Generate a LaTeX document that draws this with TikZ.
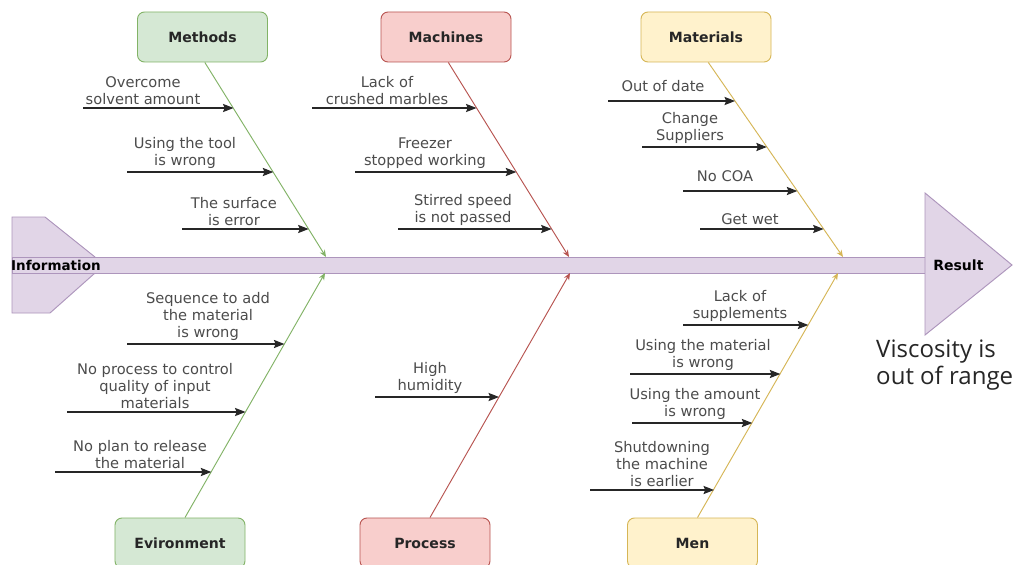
\documentclass[tikz,border=0pt]{standalone}
\usepackage{fontspec}
\setmainfont{DejaVu Sans}
\newfontfamily\notefont{Open Sans}
\usetikzlibrary{arrows.meta}

\definecolor{spinefill}{HTML}{E1D5E7}
\definecolor{spineline}{HTML}{AD95BC}
\definecolor{metfill}{HTML}{D5E8D4}
\definecolor{metline}{HTML}{82B366}
\definecolor{macfill}{HTML}{F8CECC}
\definecolor{macline}{HTML}{B85450}
\definecolor{matfill}{HTML}{FFF2CC}
\definecolor{matline}{HTML}{D6B656}

\tikzset{
  catbox/.style={rounded corners=6pt, line width=0.8pt, minimum width=3.9cm, minimum height=1.5cm,
    font=\fontsize{12}{14}\selectfont\bfseries, text=black!85},
  bone/.style={line width=0.8pt, -{Stealth[length=6pt,width=5pt]}},
  causearrow/.style={line width=0.9pt, black!85, -{Stealth[length=9pt,width=7pt,inset=1.5pt]}},
  cause/.style={align=center, inner sep=1pt, anchor=south, text=black!70,
    font=\fontsize{12.5}{14.5}\selectfont},
  spinepart/.style={fill=spinefill, draw=spineline, line width=0.8pt},
}

\begin{document}
\begin{tikzpicture}[x=0.03cm,y=-0.03cm]
\useasboundingbox (0,0) rectangle (1019,564);
\fill[white] (0,0) rectangle (1019,564);

% spine with tail and head
\draw[spinepart] (12,217) -- (45,217) -- (95,257) -- (95,273) -- (50,313) -- (12,313) -- cycle;
\draw[spinepart] (12,257) rectangle (925,273);
\draw[spinepart] (925,193) -- (1012,265) -- (925,335) -- cycle;
\node[anchor=west, inner sep=0pt, font=\fontsize{11.5}{13}\selectfont\bfseries] (info) at (11,265) {Information};
\node[anchor=west, inner sep=0pt, font=\fontsize{12}{14}\selectfont\bfseries] (res) at (933,265) {Result};
\node[anchor=north west, align=left, inner sep=0pt, text=black!85,
  font=\notefont\fontsize{20.5}{23}\selectfont] (effect) at (876,340) {Viscosity is\\out of range};

% categories
\node[catbox, fill=metfill, draw=metline] (met) at (202.5,37) {Methods};
\node[catbox, fill=macfill, draw=macline] (mac) at (446,37) {Machines};
\node[catbox, fill=matfill, draw=matline] (mat) at (706,37) {Materials};
\node[catbox, fill=metfill, draw=metline] (env) at (180,543) {Evironment};
\node[catbox, fill=macfill, draw=macline] (pro) at (425,543) {Process};
\node[catbox, fill=matfill, draw=matline] (men) at (692.5,543) {Men};

% bones
\coordinate (metE) at (326,257);
\coordinate (macE) at (569,257);
\coordinate (matE) at (843,257);
\coordinate (envE) at (325,273);
\coordinate (proE) at (570,273);
\coordinate (menE) at (838,273);
\draw[bone, metline] ([xshift=0.07cm]met.south) -- (metE);
\draw[bone, macline] ([xshift=0.07cm]mac.south) -- (macE);
\draw[bone, matline] ([xshift=0.07cm]mat.south) -- (matE);
\draw[bone, metline] ([xshift=0.15cm]env.north) -- (envE);
\draw[bone, macline] ([xshift=0.15cm]pro.north) -- (proE);
\draw[bone, matline] ([xshift=0.15cm]men.north) -- (menE);

% Methods causes
\coordinate (met1a) at (83,108);  \coordinate (met1b) at (233.5,108);
\draw[causearrow] (met1a) -- (met1b);
\node[cause] (met1) at (143,106) {Overcome\\solvent amount};
\coordinate (met2a) at (127,172); \coordinate (met2b) at (273.3,172);
\draw[causearrow] (met2a) -- (met2b);
\node[cause] (met2) at (185,170) {Using the tool\\is wrong};
\coordinate (met3a) at (182,229); \coordinate (met3b) at (308.6,229);
\draw[causearrow] (met3a) -- (met3b);
\node[cause] (met3) at (234,227) {The surface\\is error};

% Machines causes
\coordinate (mac1a) at (312,108); \coordinate (mac1b) at (476.5,108);
\draw[causearrow] (mac1a) -- (mac1b);
\node[cause] (mac1) at (387,106) {Lack of\\crushed marbles};
\coordinate (mac2a) at (355,172); \coordinate (mac2b) at (516.3,172);
\draw[causearrow] (mac2a) -- (mac2b);
\node[cause] (mac2) at (425,170) {Freezer\\stopped working};
\coordinate (mac3a) at (398,229); \coordinate (mac3b) at (551.6,229);
\draw[causearrow] (mac3a) -- (mac3b);
\node[cause] (mac3) at (463,227) {Stirred speed\\is not passed};

% Materials causes
\coordinate (mat1a) at (608,101); \coordinate (mat1b) at (735,101);
\draw[causearrow] (mat1a) -- (mat1b);
\node[cause] (mat1) at (663,93) {Out of date};
\coordinate (mat2a) at (642,147); \coordinate (mat2b) at (766.8,147);
\draw[causearrow] (mat2a) -- (mat2b);
\node[cause] (mat2) at (690,145) {Change\\Suppliers};
\coordinate (mat3a) at (683,191); \coordinate (mat3b) at (797.3,191);
\draw[causearrow] (mat3a) -- (mat3b);
\node[cause] (mat3) at (725,183) {No COA};
\coordinate (mat4a) at (700,229); \coordinate (mat4b) at (823.6,229);
\draw[causearrow] (mat4a) -- (mat4b);
\node[cause] (mat4) at (750,226) {Get wet};

% Evironment causes
\coordinate (env1a) at (127,344); \coordinate (env1b) at (284.4,344);
\draw[causearrow] (env1a) -- (env1b);
\node[cause] (env1) at (208,342) {Sequence to add\\the material\\is wrong};
\coordinate (env2a) at (67,412);  \coordinate (env2b) at (245.5,412);
\draw[causearrow] (env2a) -- (env2b);
\node[cause] (env2) at (155,410) {No process to control\\quality of input\\materials};
\coordinate (env3a) at (55,472);  \coordinate (env3b) at (211.3,472);
\draw[causearrow] (env3a) -- (env3b);
\node[cause] (env3) at (140,470) {No plan to release\\the material};

% Process causes
\coordinate (pro1a) at (375,397); \coordinate (pro1b) at (499,397);
\draw[causearrow] (pro1a) -- (pro1b);
\node[cause] (pro1) at (430,395) {High\\humidity};

% Men causes
\coordinate (men1a) at (683,325); \coordinate (men1b) at (808.3,325);
\draw[causearrow] (men1a) -- (men1b);
\node[cause] (men1) at (740,323) {Lack of\\supplements};
\coordinate (men2a) at (630,374); \coordinate (men2b) at (780.3,374);
\draw[causearrow] (men2a) -- (men2b);
\node[cause] (men2) at (703,372) {Using the material\\is wrong};
\coordinate (men3a) at (632,423); \coordinate (men3b) at (752.3,423);
\draw[causearrow] (men3a) -- (men3b);
\node[cause] (men3) at (695,421) {Using the amount\\is wrong};
\coordinate (men4a) at (590,490); \coordinate (men4b) at (714,490);
\draw[causearrow] (men4a) -- (men4b);
\node[cause] (men4) at (662,488) {Shutdowning\\the machine\\is earlier};
\end{tikzpicture}
\end{document}
